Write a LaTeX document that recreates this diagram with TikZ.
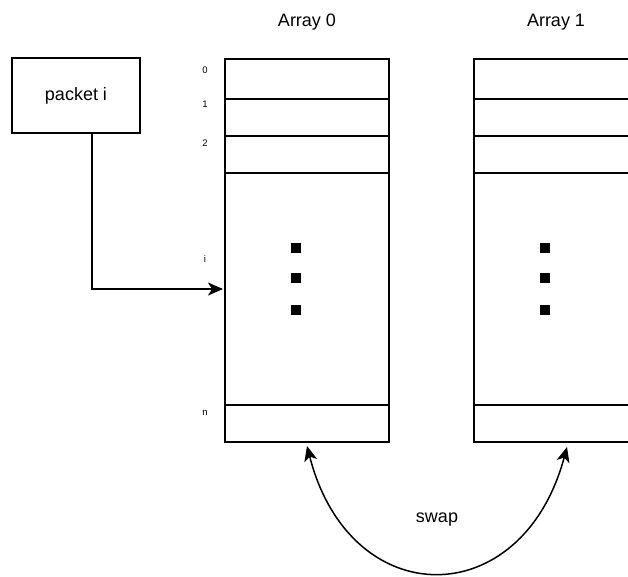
\documentclass[tikz,border=0pt]{standalone}
\usepackage{fontspec}
\setmainfont{Liberation Sans}
\usetikzlibrary{arrows.meta}
\tikzset{
  cell/.style={draw, line width=1.6pt, minimum width=164pt, minimum height=383pt, inner sep=0pt},
  slotline/.style={line width=1.4pt},
  idx/.style={font=\fontsize{9.5}{11}\selectfont},
  big/.style={font=\fontsize{18}{20}\selectfont},
  dot/.style={fill, minimum size=10pt, inner sep=0pt},
  arr/.style={line width=1.5pt, -{Stealth[length=15pt,width=13pt,inset=4pt]}},
}
\begin{document}
\begin{tikzpicture}[x=1pt,y=-1pt]
    \useasboundingbox (0,0) rectangle (628,576);
    \clip (0,0) rectangle (628,576);
    % Incoming packet
    \node[draw, line width=1.6pt, minimum width=128pt, minimum height=75pt, big] (packet) at (76,95.5) {packet i};
    % The two arrays
    \foreach \n/\x in {0/307, 1/556} {
        \node[cell] (arr\n) at (\x,250.5) {};
        \node[big] (title\n) at (\x,22) {Array \n};
        \foreach \y in {99,136,173,405}
            \draw[slotline] (arr\n.west |- 0,\y) -- (arr\n.east |- 0,\y);
        % Dots
        \foreach \y in {248,278,310}
            \node[dot] (dot\n-\y) at (\x-11,\y) {};
    }
    % Slot indices
    \foreach \t/\y in {0/70, 1/104, 2/143, i/259, n/413}
        \node[idx] (idx-\t) at (205,\y) {\t};
    % Packet goes into slot i
    \coordinate (pout) at ([xshift=16pt]packet.south);
    \coordinate (slot) at (223,289);
    \draw[arr] (pout) |- (slot);
    % Swap
    \coordinate (sw0) at (307,446);
    \coordinate (sw1) at (567,447);
    \draw[line width=1.5pt, {Stealth[length=15pt,width=13pt,inset=4pt]}-{Stealth[length=15pt,width=13pt,inset=4pt]}]
        (sw0) .. controls (350,614) and (522,614) .. (sw1);
    \node[big] (swap) at (437,520) {swap};
\end{tikzpicture}
\end{document}
